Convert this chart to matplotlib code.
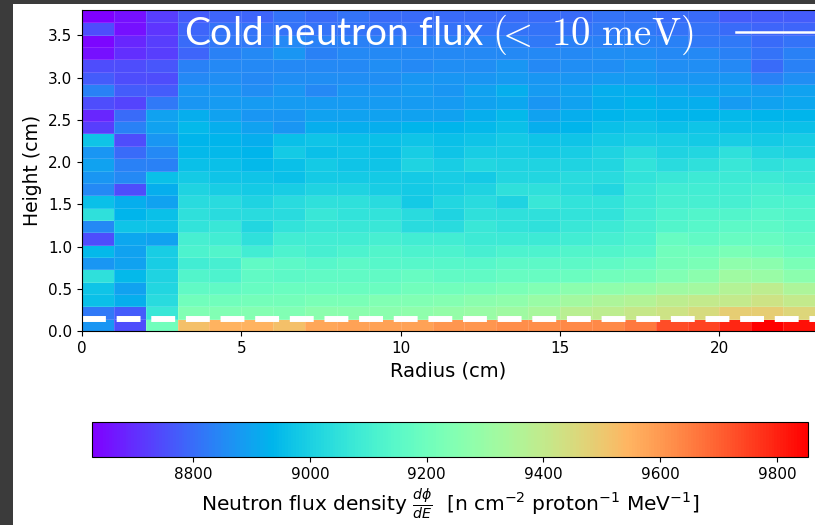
import numpy as np
import matplotlib
matplotlib.use("Agg")
import matplotlib.pyplot as plt
from matplotlib.lines import Line2D
from matplotlib.patches import Rectangle
from matplotlib.font_manager import FontProperties

# flux density per (height, radius) bin, rows listed from the top of the plot down
flux_rows = [
    [8627, 8652, 8725, 8774, 8786, 8786, 8811, 8799, 8811, 8799, 8799, 8799, 8799, 8799, 8799, 8799, 8811, 8811, 8799, 8799, 8774, 8774, 8774],
    [8750, 8652, 8713, 8786, 8811, 8811, 8811, 8811, 8811, 8811, 8811, 8811, 8811, 8811, 8811, 8811, 8823, 8823, 8811, 8811, 8799, 8786, 8786],
    [8639, 8688, 8725, 8799, 8823, 8823, 8848, 8835, 8835, 8835, 8835, 8835, 8835, 8835, 8823, 8835, 8835, 8835, 8835, 8823, 8823, 8799, 8811],
    [8652, 8701, 8725, 8786, 8835, 8848, 8872, 8835, 8848, 8848, 8848, 8848, 8848, 8848, 8848, 8848, 8860, 8860, 8848, 8848, 8835, 8811, 8835],
    [8750, 8750, 8762, 8835, 8848, 8848, 8848, 8848, 8848, 8860, 8848, 8860, 8860, 8872, 8848, 8860, 8860, 8872, 8860, 8860, 8848, 8799, 8835],
    [8774, 8750, 8750, 8848, 8860, 8848, 8860, 8860, 8860, 8860, 8872, 8872, 8872, 8884, 8872, 8872, 8884, 8884, 8872, 8872, 8872, 8835, 8860],
    [8835, 8774, 8774, 8872, 8872, 8860, 8872, 8848, 8872, 8872, 8884, 8872, 8897, 8921, 8884, 8897, 8921, 8921, 8909, 8897, 8897, 8884, 8897],
    [8750, 8737, 8823, 8872, 8884, 8884, 8884, 8884, 8884, 8884, 8884, 8884, 8897, 8909, 8872, 8897, 8921, 8934, 8921, 8921, 8884, 8897, 8909],
    [8688, 8799, 8897, 8921, 8897, 8872, 8872, 8897, 8897, 8897, 8897, 8897, 8921, 8946, 8897, 8921, 8934, 8946, 8934, 8934, 8946, 8934, 8934],
    [8725, 8835, 8897, 8946, 8921, 8897, 8872, 8921, 8921, 8921, 8934, 8934, 8946, 8958, 8921, 8934, 8958, 8970, 8958, 8970, 8958, 8958, 8958],
    [8970, 8750, 8872, 8934, 8934, 8921, 8958, 8970, 8958, 8958, 8970, 8958, 8970, 8983, 8970, 8970, 8983, 8995, 8995, 8983, 8995, 8983, 8995],
    [8872, 8799, 8848, 8946, 8946, 8934, 8983, 8958, 8970, 8958, 8995, 8970, 8995, 8995, 8983, 8995, 9007, 9032, 9007, 9019, 9044, 9019, 9007],
    [8897, 8835, 8835, 8958, 8958, 8946, 8958, 8983, 8970, 8970, 9007, 8995, 9019, 9007, 9007, 9007, 9019, 9056, 9032, 9044, 9068, 9044, 9056],
    [8872, 8848, 8958, 8983, 8970, 8970, 8958, 8983, 8983, 8983, 8983, 8995, 8983, 9019, 9019, 9032, 9032, 9056, 9068, 9081, 9081, 9081, 9068],
    [8848, 8750, 8921, 9007, 8995, 8983, 8995, 9007, 9007, 8995, 8983, 8995, 9007, 9044, 9044, 9032, 9019, 9068, 9093, 9093, 9093, 9105, 9093],
    [8958, 8921, 8897, 9032, 9032, 9007, 9032, 9044, 9044, 9032, 8983, 9019, 9032, 9007, 9068, 9056, 9056, 9081, 9105, 9105, 9105, 9117, 9117],
    [9044, 8934, 8958, 9044, 9032, 9032, 9032, 9068, 9056, 9056, 9032, 9007, 9044, 9044, 9044, 9056, 9056, 9093, 9117, 9130, 9130, 9142, 9130],
    [8848, 8970, 8970, 9056, 9068, 9019, 9056, 9068, 9068, 9068, 9032, 9032, 9068, 9056, 9044, 9068, 9081, 9105, 9130, 9142, 9154, 9154, 9142],
    [8750, 8909, 8897, 9105, 9093, 9044, 9093, 9093, 9093, 9105, 9093, 9093, 9081, 9081, 9081, 9093, 9105, 9117, 9179, 9166, 9179, 9179, 9166],
    [8946, 8897, 8995, 9117, 9130, 9093, 9117, 9105, 9117, 9130, 9117, 9117, 9105, 9117, 9117, 9130, 9130, 9142, 9203, 9203, 9228, 9215, 9191],
    [8872, 8897, 8995, 9093, 9105, 9166, 9154, 9142, 9154, 9142, 9142, 9142, 9142, 9154, 9154, 9154, 9166, 9179, 9215, 9228, 9277, 9265, 9228],
    [9044, 8946, 9007, 9130, 9117, 9166, 9154, 9166, 9166, 9166, 9179, 9166, 9166, 9179, 9179, 9191, 9203, 9215, 9240, 9265, 9314, 9301, 9265],
    [8970, 8897, 9019, 9166, 9166, 9179, 9191, 9191, 9191, 9191, 9203, 9203, 9215, 9228, 9240, 9265, 9277, 9289, 9314, 9326, 9363, 9387, 9350],
    [8958, 8921, 9032, 9203, 9203, 9215, 9215, 9228, 9228, 9240, 9240, 9252, 9265, 9277, 9301, 9326, 9350, 9363, 9387, 9399, 9399, 9424, 9399],
    [8823, 8774, 9068, 9240, 9240, 9252, 9240, 9265, 9265, 9265, 9277, 9289, 9301, 9314, 9338, 9375, 9387, 9412, 9424, 9448, 9485, 9485, 9461],
    [8872, 8750, 9203, 9522, 9547, 9547, 9522, 9571, 9583, 9583, 9583, 9608, 9608, 9620, 9620, 9632, 9632, 9657, 9730, 9743, 9792, 9853, 9828],
]
radius_max = 23      # cm, visible part of the radial range
height_max = 3.8     # cm
target_height = 0.14 # cm, dashed line
x_ticks = [0, 5, 10, 15, 20]
y_ticks = [0.0, 0.5, 1.0, 1.5, 2.0, 2.5, 3.0, 3.5]
cbar_ticks = [8800, 9000, 9200, 9400, 9600, 9800]

flux = np.flipud(np.array(flux_rows, dtype=float))
r_edges = np.arange(flux.shape[1] + 1)
h_edges = np.linspace(0, height_max, flux.shape[0] + 1)

fig = plt.figure(figsize=(8.15, 5.25), dpi=100)
fig.patch.set_facecolor("#3b3b3b")
fig.add_artist(Rectangle((13 / 815, 0), 1, 521 / 525, transform=fig.transFigure,
                         facecolor="white", edgecolor="none", zorder=-10))

ax = fig.add_axes([82 / 815, 1 - 331 / 525, 1 - 82 / 815, 321 / 525])
mesh = ax.pcolormesh(r_edges, h_edges, flux, cmap="rainbow",
                     edgecolors=(1, 1, 1, 0.15), linewidth=0.6)
ax.axhline(target_height, color="white", lw=4.3, linestyle=(0, (4, 1.8)))
ax.set_xlim(0, radius_max)
ax.set_ylim(0, height_max)
ax.set_xticks(x_ticks)
ax.set_yticks(y_ticks)
ax.tick_params(labelsize=11)
ax.spines["right"].set_visible(False)
ax.set_xlabel("Radius (cm)", fontsize=14)
ax.set_ylabel("Height (cm)", fontsize=13.5)

handle = Line2D([], [], color="white", lw=1.8)
leg = ax.legend([handle], [r"Cold neutron flux $(\!\!<\ 10\ \mathrm{meV})$"],
                loc="upper left", bbox_to_anchor=(0.139, 0.99), frameon=False,
                markerfirst=False, handlelength=3, handletextpad=1.1,
                borderaxespad=0, borderpad=0,
                prop=FontProperties(family="Lato", size=28, math_fontfamily="cm"))
for t in leg.get_texts():
    t.set_color("white")

cax = fig.add_axes([92 / 815, 1 - 457 / 525, 716 / 815, 35 / 525])
cb = fig.colorbar(mesh, cax=cax, orientation="horizontal")
cb.set_ticks(cbar_ticks)
cax.tick_params(labelsize=11)
cb.set_label(r"Neutron flux density $\frac{d\phi}{dE}$  [n cm$^{-2}$ proton$^{-1}$ MeV$^{-1}$]",
             fontsize=14.5)

fig.savefig("out.png", dpi=100, facecolor=fig.get_facecolor())
